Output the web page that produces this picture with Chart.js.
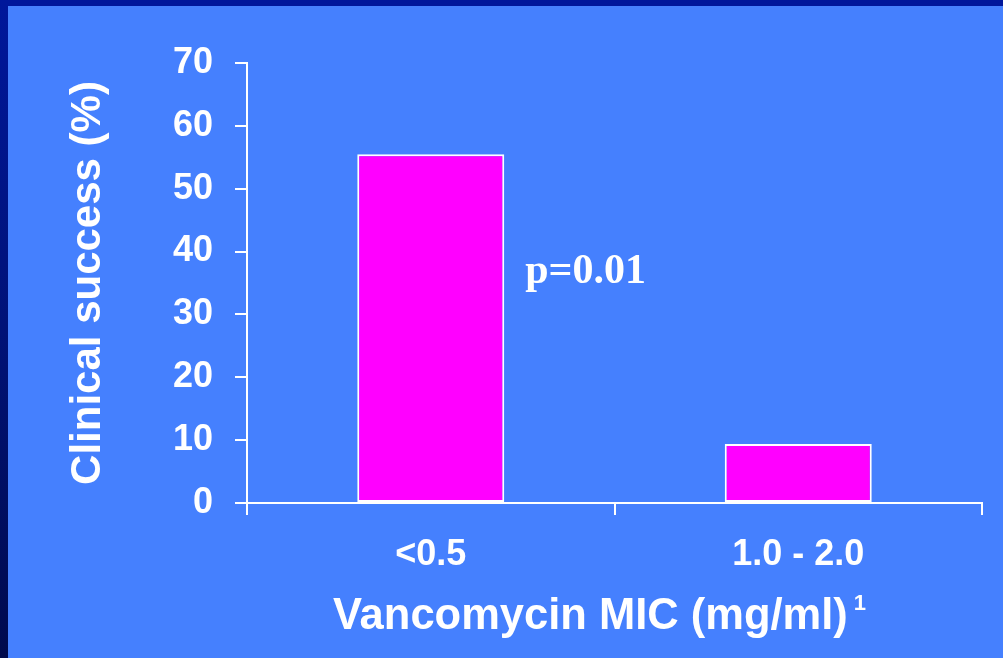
<!DOCTYPE html>
<html>
<head>
<meta charset="utf-8">
<script src="https://cdn.jsdelivr.net/npm/chart.js@4.4.1/dist/chart.umd.min.js"></script>
<style>
  html, body { margin: 0; padding: 0; }
  body {
    width: 1003px; height: 658px; overflow: hidden; position: relative;
    background: #4580fe;
  }
  #topBar {
    position: absolute; left: 0; top: 0; width: 1003px; height: 6px;
    background: #00179b;
  }
  #leftBar {
    position: absolute; left: 0; top: 0; width: 8px; height: 658px;
    background: linear-gradient(to bottom, #00179b 0%, #001277 50%, #000a4c 100%);
  }
  #chart { position: absolute; left: 0; top: 0; }
</style>
</head>
<body>
<div id="topBar"></div>
<div id="leftBar"></div>
<canvas id="chart" width="1003" height="658"></canvas>
<script>
// Clinical success by vancomycin MIC group
const categories = ['<0.5', '1.0 - 2.0'];
const successRates = [55.5, 9.4];
const yTickValues = [0, 10, 20, 30, 40, 50, 60, 70];
const yAxisTitle = 'Clinical success (%)';
const xAxisTitle = 'Vancomycin MIC (mg/ml)';
const xAxisNote = '1';
const pValueText = 'p=0.01';
const pValueLevel = 35;

const SANS = '"Liberation Sans", Arial, sans-serif';
const SERIF = '"Liberation Serif", "Times New Roman", serif';
const WHITE = '#ffffff';

// Draws the p-value note next to the first bar and the x-axis title with its footnote mark
const notesPlugin = {
  id: 'notes',
  afterDatasetsDraw(chart) {
    const ctx = chart.ctx;
    const area = chart.chartArea;
    const yScale = chart.scales.y;
    const firstBar = chart.getDatasetMeta(0).data[0];

    ctx.save();
    ctx.fillStyle = WHITE;
    ctx.textBaseline = 'alphabetic';
    ctx.textAlign = 'left';

    // p-value beside the first bar
    ctx.font = 'bold 42px ' + SERIF;
    ctx.fillText(pValueText, firstBar.x + firstBar.width / 2 + 21, yScale.getPixelForValue(pValueLevel));

    // x-axis title with superscript reference
    ctx.font = 'bold 43.5px ' + SANS;
    const titleX = area.left + 86;
    const titleY = area.bottom + 126;
    ctx.fillText(xAxisTitle, titleX, titleY);
    const w = ctx.measureText(xAxisTitle).width;
    ctx.font = 'bold 22px ' + SANS;
    ctx.fillText(xAxisNote, titleX + w + 6, titleY - 19);
    ctx.restore();
  }
};

new Chart(document.getElementById('chart'), {
  type: 'bar',
  data: {
    labels: categories,
    datasets: [{
      data: successRates,
      backgroundColor: '#ff00ff',
      borderColor: WHITE,
      borderWidth: 2,
      borderSkipped: false,
      barPercentage: 0.4,
      categoryPercentage: 1.0
    }]
  },
  options: {
    responsive: false,
    animation: false,
    devicePixelRatio: 1,
    layout: { padding: { top: 63, right: 21, bottom: 0, left: 0 } },
    plugins: {
      legend: { display: false },
      tooltip: { enabled: false }
    },
    scales: {
      x: {
        grid: {
          drawOnChartArea: false,
          drawTicks: true,
          tickLength: 12,
          color: WHITE,
          lineWidth: 2,
          offset: true
        },
        border: { display: true, color: WHITE, width: 2 },
        ticks: {
          color: WHITE,
          font: { family: SANS, size: 36, weight: 'bold' },
          padding: 18,
          maxRotation: 0
        },
        afterFit(scale) { scale.height = 155; }
      },
      y: {
        min: 0,
        max: 70,
        afterBuildTicks(scale) { scale.ticks = yTickValues.map(v => ({ value: v })); },
        grid: {
          drawOnChartArea: false,
          drawTicks: true,
          tickLength: 12,
          color: WHITE,
          lineWidth: 2
        },
        border: { display: true, color: WHITE, width: 2 },
        ticks: {
          color: WHITE,
          font: { family: SANS, size: 36, weight: 'bold' },
          padding: 22
        },
        title: {
          display: true,
          text: yAxisTitle,
          color: WHITE,
          font: { family: SANS, size: 42, weight: 'bold', lineHeight: 1 },
          padding: { top: 67, bottom: 0 }
        },
        afterFit(scale) { scale.width = 247; }
      }
    }
  },
  plugins: [notesPlugin]
});
</script>
</body>
</html>
